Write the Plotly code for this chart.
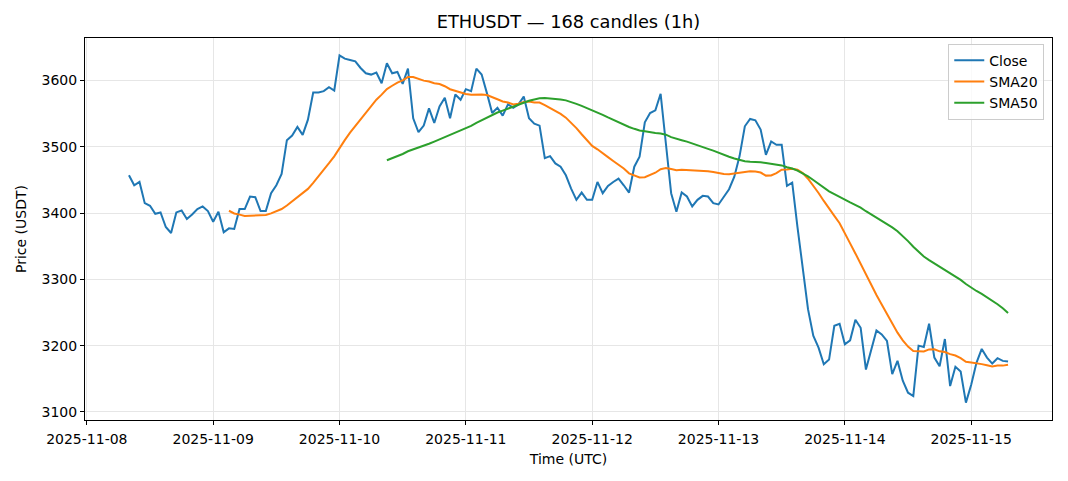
import pandas as pd
import plotly.graph_objects as go

start_time = "2025-11-08 08:00"
n_candles = 168
close = [
    3457, 3442, 3447, 3415, 3411, 3399, 3401, 3379, 3370, 3401,
    3404, 3391, 3398, 3406, 3410, 3403, 3387, 3402, 3371, 3377,
    3376, 3406, 3406, 3425, 3424, 3403, 3403, 3430, 3442, 3459,
    3510, 3517, 3530, 3518, 3541, 3582, 3582, 3584, 3590, 3585,
    3638, 3633, 3631, 3629, 3619, 3611, 3609, 3612, 3596, 3626,
    3611, 3613, 3595, 3618, 3543, 3522, 3532, 3558, 3536, 3561,
    3574, 3543, 3579, 3571, 3587, 3584, 3618, 3609, 3581, 3551,
    3559, 3547, 3564, 3559, 3564, 3576, 3543, 3535, 3532, 3483,
    3486, 3475, 3470, 3457, 3437, 3420, 3431, 3420, 3420, 3447,
    3430, 3441, 3447, 3452, 3442, 3431, 3470, 3485, 3537, 3551,
    3555, 3580, 3505, 3430, 3402, 3431, 3425, 3410, 3420, 3426,
    3425, 3415, 3413, 3425, 3436, 3455, 3486, 3531, 3542, 3540,
    3526, 3488, 3508, 3503, 3503, 3441, 3446, 3379, 3319, 3255,
    3215, 3197, 3172, 3179, 3230, 3233, 3202, 3208, 3239, 3227,
    3164, 3193, 3223, 3217, 3207, 3157, 3177, 3147, 3129, 3124,
    3200, 3198, 3233, 3182, 3169, 3210, 3139, 3168, 3161, 3114,
    3141, 3174, 3195, 3182, 3173, 3181, 3177, 3176,
]
tick_labels = ["2025-11-08", "2025-11-09", "2025-11-10", "2025-11-11",
               "2025-11-12", "2025-11-13", "2025-11-14", "2025-11-15"]
y_ticks = [3100, 3200, 3300, 3400, 3500, 3600]

times = pd.date_range(start_time, periods=n_candles, freq="h")
s = pd.Series(close, index=times)
sma20 = s.rolling(20).mean()
sma50 = s.rolling(50).mean()

fig = go.Figure()
fig.add_trace(go.Scatter(x=times, y=s.values, mode="lines", name="Close",
                         line=dict(color="#1f77b4", width=2)))
fig.add_trace(go.Scatter(x=times, y=sma20.values, mode="lines", name="SMA20",
                         line=dict(color="#ff7f0e", width=2)))
fig.add_trace(go.Scatter(x=times, y=sma50.values, mode="lines", name="SMA50",
                         line=dict(color="#2ca02c", width=2)))

span = times[-1] - times[0]
pad = span * 0.05
xr = [times[0] - pad, times[-1] + pad]
ypad = (max(close) - min(close)) * 0.05
yr = [min(close) - ypad, max(close) + ypad]

W, H = 1060, 473
font_family = "DejaVu Sans, sans-serif"
fig.update_layout(
    width=W, height=H,
    margin=dict(l=77, r=16, t=30, b=61),
    paper_bgcolor="white", plot_bgcolor="white",
    font=dict(family=font_family, size=14, color="black"),
    title=dict(text="ETHUSDT — 168 candles (1h)", x=0.5, xref="paper",
               xanchor="center", y=1 - 14 / H, yanchor="middle",
               font=dict(size=17.8, family=font_family)),
    showlegend=True,
    legend=dict(x=0.992, y=0.985, xanchor="right", yanchor="top",
                bgcolor="rgba(255,255,255,0.8)", bordercolor="#cccccc",
                borderwidth=1, font=dict(size=14), tracegroupgap=2,
                itemwidth=30),
)
fig.update_xaxes(
    range=xr, type="date", automargin=False,
    tickvals=pd.to_datetime(tick_labels), ticktext=tick_labels,
    tickfont=dict(size=14), ticklabelstandoff=2,
    showgrid=True, gridcolor="#e6e6e6", gridwidth=1,
    showline=True, linecolor="black", linewidth=1, mirror=True,
    ticks="outside", ticklen=4, tickcolor="black",
    title=dict(text="Time (UTC)", standoff=8, font=dict(size=14)),
    zeroline=False,
)
fig.update_yaxes(
    range=yr, tickvals=y_ticks, automargin=False,
    tickfont=dict(size=14),
    showgrid=True, gridcolor="#e6e6e6", gridwidth=1,
    showline=True, linecolor="black", linewidth=1, mirror=True,
    ticks="outside", ticklen=4, tickcolor="black",
    title=dict(text="Price (USDT)", standoff=11, font=dict(size=14)),
    zeroline=False,
)

fig.write_html("out.html")
